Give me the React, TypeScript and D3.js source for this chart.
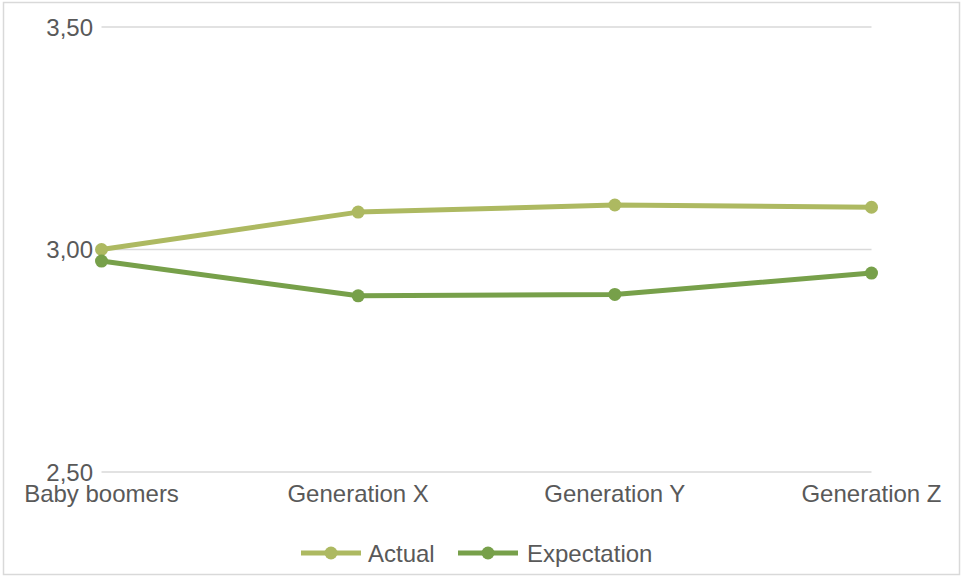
import React, { useEffect, useRef } from "react";
import * as d3 from "d3";

const categories = ["Baby boomers", "Generation X", "Generation Y", "Generation Z"];
const actual = [3.0, 3.084, 3.1, 3.095];
const expectation = [2.974, 2.896, 2.899, 2.947];
const yTicks = [2.5, 3.0, 3.5];
const seriesNames = ["Actual", "Expectation"];
const seriesColors = ["#adb961", "#77a04a"];

const W = 961;
const H = 577;

const App: React.FC = () => {
  const svgRef = useRef<SVGSVGElement | null>(null);

  useEffect(() => {
    if (!svgRef.current) return;
    const svg = d3.select(svgRef.current);
    svg.selectAll("*").remove();

    const font = "'Liberation Sans', Arial, sans-serif";
    const textColor = "#595959";

    // outer frame
    svg
      .append("rect")
      .attr("x", 3.5)
      .attr("y", 2.5)
      .attr("width", W - 5)
      .attr("height", H - 5)
      .attr("fill", "white")
      .attr("stroke", "#d9d9d9")
      .attr("stroke-width", 1.5);

    const x = d3.scalePoint<string>().domain(categories).range([101.5, 871.5]).padding(0);
    const y = d3.scaleLinear().domain([2.5, 3.5]).range([472, 27]);

    const g = svg.append("g");

    // grid lines
    g.selectAll(".grid")
      .data(yTicks)
      .enter()
      .append("line")
      .attr("x1", 101.5)
      .attr("x2", 871.5)
      .attr("y1", (d) => y(d))
      .attr("y2", (d) => y(d))
      .attr("stroke", "#d9d9d9")
      .attr("stroke-width", 1.3);

    // y labels
    const fmt = (v: number) => v.toFixed(2).replace(".", ",");
    g.selectAll(".ylab")
      .data(yTicks)
      .enter()
      .append("text")
      .attr("x", 93)
      .attr("y", (d) => y(d))
      .attr("dy", "0.36em")
      .attr("text-anchor", "end")
      .attr("font-family", font)
      .attr("font-size", 24)
      .attr("fill", textColor)
      .text((d) => fmt(d));

    // x labels
    g.selectAll(".xlab")
      .data(categories)
      .enter()
      .append("text")
      .attr("x", (d) => x(d)!)
      .attr("y", 502)
      .attr("text-anchor", "middle")
      .attr("font-family", font)
      .attr("font-size", 24)
      .attr("fill", textColor)
      .text((d) => d);

    const series = [actual, expectation];
    const line = d3
      .line<number>()
      .x((_, i) => x(categories[i])!)
      .y((d) => y(d));

    series.forEach((vals, si) => {
      g.append("path")
        .datum(vals)
        .attr("fill", "none")
        .attr("stroke", seriesColors[si])
        .attr("stroke-width", 5)
        .attr("stroke-linejoin", "round")
        .attr("d", line);
      g.selectAll(`.dot${si}`)
        .data(vals)
        .enter()
        .append("circle")
        .attr("cx", (_, i) => x(categories[i])!)
        .attr("cy", (d) => y(d))
        .attr("r", 6.5)
        .attr("fill", seriesColors[si]);
    });

    // legend
    const legendY = 553;
    const legendItems = [
      { x0: 301, tx: 368 },
      { x0: 458, tx: 527 },
    ];
    seriesNames.forEach((name, i) => {
      const it = legendItems[i];
      const lg = svg.append("g");
      lg.append("line")
        .attr("x1", it.x0)
        .attr("x2", it.x0 + 60)
        .attr("y1", legendY)
        .attr("y2", legendY)
        .attr("stroke", seriesColors[i])
        .attr("stroke-width", 5);
      lg.append("circle")
        .attr("cx", it.x0 + 30)
        .attr("cy", legendY)
        .attr("r", 6.5)
        .attr("fill", seriesColors[i]);
      lg.append("text")
        .attr("x", it.tx)
        .attr("y", legendY)
        .attr("dy", "0.36em")
        .attr("font-family", font)
        .attr("font-size", 24)
        .attr("fill", textColor)
        .text(name);
    });
  }, []);

  return (
    <svg
      ref={svgRef}
      width={W}
      height={H}
      style={{ position: "absolute", left: 0, top: 0 }}
    ></svg>
  );
};

export default App;
